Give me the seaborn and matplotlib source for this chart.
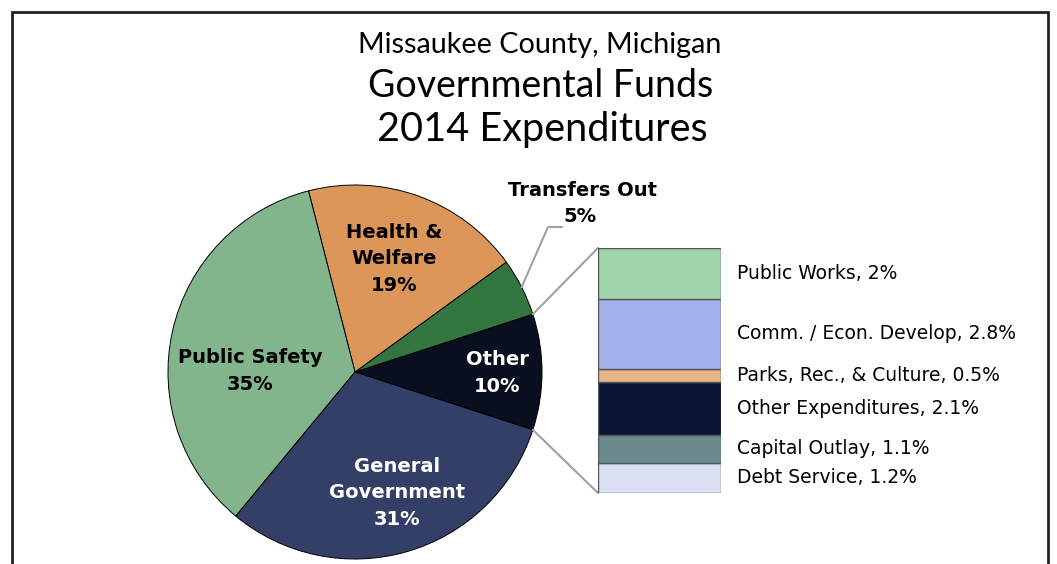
import numpy as np
import matplotlib.pyplot as plt
import seaborn as sns
from matplotlib.patches import Rectangle

# pie data (counter-clockwise from the right-hand "Other" slice)
pie_labels = ['Other', 'Transfers Out', 'Health &\nWelfare', 'Public Safety', 'General\nGovernment']
pie_values = [10, 5, 19, 35, 31]
pie_colors = ['#0A0F20', '#337640', '#DC965A', '#82B58C', '#343F68']

# breakdown of "Other" (bottom to top)
bar_labels = ['Debt Service', 'Capital Outlay', 'Other Expenditures',
              'Parks, Rec., & Culture', 'Comm. / Econ. Develop', 'Public Works']
bar_values = [1.2, 1.1, 2.1, 0.5, 2.8, 2.0]
bar_text = ['1.2%', '1.1%', '2.1%', '0.5%', '2.8%', '2%']
bar_colors = ['#DCE0F5', '#6A8C8E', '#0C1535', '#E9B48A', '#A3B2EB', '#A2D5AA']

sns.set_theme(style='white')
plt.rcParams['font.family'] = ['DejaVu Sans']
plt.rcParams['text.color'] = 'black'

W, H = 1057, 564
fig = plt.figure(figsize=(W / 100, H / 100), dpi=100)
ax = fig.add_axes([0, 0, 1, 1])

cx, cy, r = 355, H - 372, 187
wedges, _ = ax.pie(pie_values, colors=pie_colors, startangle=-18, counterclock=True,
                   center=(cx, cy), radius=r, frame=True,
                   wedgeprops=dict(edgecolor='black', linewidth=0.7))
ax.set_xlim(0, W)
ax.set_ylim(0, H)
ax.axis('off')

# slice labels
lab_pos = {0: (497, 373), 2: (394, 259), 3: (250, 371), 4: (397, 493)}
lab_col = {0: 'white', 2: 'black', 3: 'black', 4: 'white'}
for i, (x, y) in lab_pos.items():
    ax.text(x, H - y, f'{pie_labels[i]}\n{pie_values[i]}%', ha='center', va='center',
            fontsize=14, fontweight='bold', color=lab_col[i], linespacing=1.5)

# transfers out callout
t = wedges[1]
mid = np.deg2rad((t.theta1 + t.theta2) / 2)
p0 = (cx + r * np.cos(mid), cy + r * np.sin(mid))
ax.plot([p0[0], 548, 562], [p0[1], H - 227, H - 227], color='#A0A0A0', lw=1.5)
ax.text(582, H - 190, pie_labels[1], ha='center', va='center', fontsize=14, fontweight='bold')
ax.text(580, H - 217, f'{pie_values[1]}%', ha='center', va='center', fontsize=14, fontweight='bold')

# stacked bar for "Other"
bx0, by_top, bw, bh = 598, 248, 123, 245
bax = fig.add_axes([bx0 / W, (H - by_top - bh) / H, bw / W, bh / H])
bottom = 0
for v, c, lab, tx in zip(bar_values, bar_colors, bar_labels, bar_text):
    bax.bar(0, v, bottom=bottom, width=1, color=c, edgecolor='#555555', linewidth=1)
    bax.text(0.63, bottom + v / 2, f'{lab}, {tx}', ha='left', va='center', fontsize=13.5,
             clip_on=False)
    bottom += v
bax.set_xlim(-0.5, 0.5)
bax.set_ylim(0, bottom)
bax.axis('off')

# connector lines from the "Other" slice to the bar
o = wedges[0]
for ang, yy in [(o.theta2, H - by_top), (o.theta1, H - by_top - bh)]:
    a = np.deg2rad(ang)
    ax.plot([cx + r * np.cos(a), bx0], [cy + r * np.sin(a), yy], color='#A0A0A0', lw=1.5)

# title
tf = ['Lato', 'DejaVu Sans']
ax.text(540, H - 45, 'Missaukee County, Michigan', ha='center', va='center', fontsize=20.7, family=tf)
ax.text(541, H - 86, 'Governmental Funds', ha='center', va='center', fontsize=27, family=tf)
ax.text(542, H - 129, '2014 Expenditures', ha='center', va='center', fontsize=28.5, family=tf)

# outer frame
fig.patches.append(Rectangle((12 / W, -0.1), (1048 - 12) / W, (H - 12) / H + 0.1,
                             transform=fig.transFigure, fill=False, edgecolor='#222222', lw=2))

fig.savefig('out.png', dpi=100)
